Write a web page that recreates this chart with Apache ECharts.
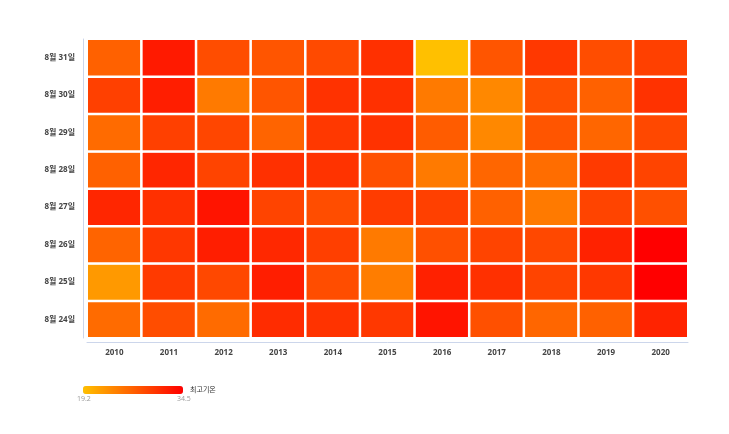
<!DOCTYPE html>
<html>
<head>
<meta charset="utf-8">
<script src="https://cdn.jsdelivr.net/npm/echarts@6/dist/echarts.min.js"></script>
<style>
  html, body { margin: 0; padding: 0; background: #fff; }
  #chart { width: 729px; height: 434px; }
</style>
</head>
<body>
<div id="chart"></div>
<script>
// 연도 (x축)
const years = ['2010', '2011', '2012', '2013', '2014', '2015', '2016', '2017', '2018', '2019', '2020'];
// 날짜 (y축, 아래에서 위로)
const days = ['8월 24일', '8월 25일', '8월 26일', '8월 27일', '8월 28일', '8월 29일', '8월 30일', '8월 31일'];

// 날짜별 최고기온 (2010 ~ 2020)
const aug24 = [26.0, 28.4, 26.0, 31.0, 30.4, 30.0, 32.9, 28.1, 26.4, 26.8, 31.7];
const aug25 = [22.3, 29.9, 28.8, 32.1, 28.4, 24.5, 31.9, 30.7, 29.1, 30.0, 34.5];
const aug26 = [26.5, 30.1, 32.1, 31.3, 29.5, 24.8, 28.1, 29.1, 28.8, 31.8, 34.5];
const aug27 = [31.5, 30.7, 32.9, 29.1, 28.4, 29.7, 29.4, 26.8, 24.8, 29.1, 28.1];
const aug28 = [26.8, 31.5, 29.1, 30.7, 30.4, 28.1, 24.8, 26.4, 25.8, 29.9, 29.1];
const aug29 = [26.0, 29.4, 28.9, 26.5, 30.0, 30.5, 27.2, 23.7, 27.7, 26.4, 28.8];
const aug30 = [29.4, 32.1, 24.8, 27.7, 30.5, 30.7, 24.8, 23.7, 28.1, 26.8, 30.5];
const aug31 = [26.8, 32.4, 28.4, 27.7, 28.6, 30.7, 19.2, 27.7, 30.0, 28.4, 29.4];

const rows = [aug24, aug25, aug26, aug27, aug28, aug29, aug30, aug31];

const minTemp = 19.2;
const maxTemp = 34.5;

const heatData = [];
rows.forEach((row, y) => {
    row.forEach((v, x) => {
        heatData.push([x, y, v]);
    });
});

const FONT = "'Open Sans', 'Noto Sans CJK KR', sans-serif";

const chart = echarts.init(document.getElementById('chart'), null, { renderer: 'canvas' });

const option = {
    animation: false,
    textStyle: { fontFamily: FONT },
    grid: {
        left: 87,
        right: 41,
        top: 39,
        bottom: 96
    },
    xAxis: {
        type: 'category',
        data: years,
        offset: 4,
        axisLine: { lineStyle: { color: '#ccd6eb', width: 1 } },
        axisTick: { show: false },
        axisLabel: {
            color: '#444',
            fontSize: 8,
            fontWeight: 'bold',
            fontFamily: FONT,
            margin: 7
        },
        splitLine: { show: false }
    },
    yAxis: {
        type: 'category',
        data: days,
        offset: 4,
        axisLine: { lineStyle: { color: '#ccd6eb', width: 1 } },
        axisTick: { show: false },
        axisLabel: {
            color: '#444',
            fontSize: 8,
            fontWeight: 'bold',
            fontFamily: FONT,
            margin: 8
        },
        splitLine: { show: false }
    },
    visualMap: {
        type: 'continuous',
        min: minTemp,
        max: maxTemp,
        orient: 'horizontal',
        left: 68,
        top: 371,
        itemWidth: 8,
        itemHeight: 100,
        calculable: false,
        text: ['최고기온', ''],
        textGap: 7,
        textStyle: { color: '#333', fontSize: 7, fontFamily: FONT },
        inRange: { color: ['#ffc000', '#ff0000'] }
    },
    graphic: [
        {
            type: 'text',
            left: 77,
            top: 395,
            style: { text: String(minTemp), fill: '#999', fontSize: 7, fontFamily: FONT }
        },
        {
            type: 'text',
            left: 177,
            top: 395,
            style: { text: String(maxTemp), fill: '#999', fontSize: 7, fontFamily: FONT }
        }
    ],
    series: [
        {
            name: '최고기온',
            type: 'heatmap',
            data: heatData,
            itemStyle: {
                borderColor: '#fff',
                borderWidth: 2.5
            },
            label: { show: false }
        }
    ]
};

chart.setOption(option);
</script>
</body>
</html>
